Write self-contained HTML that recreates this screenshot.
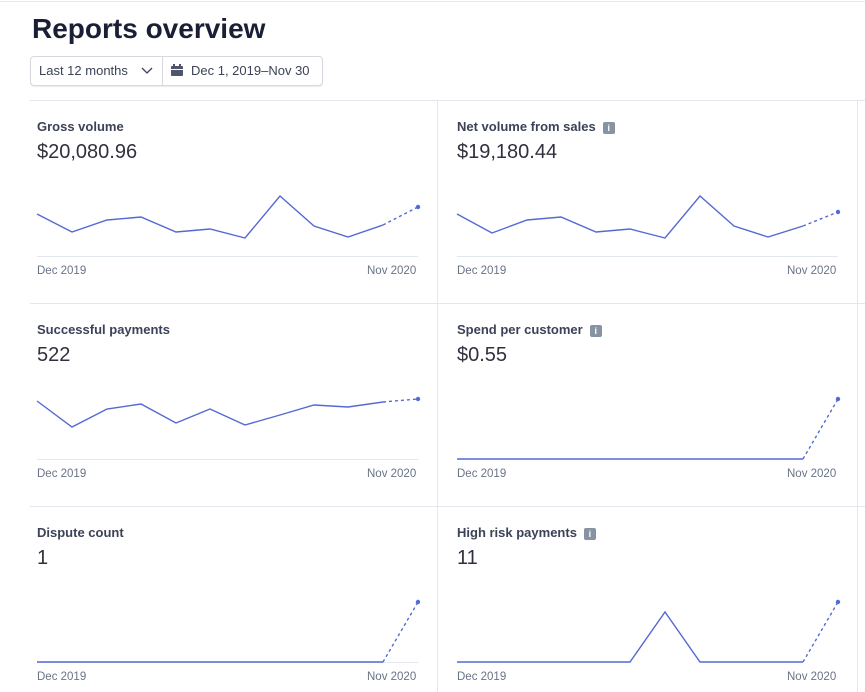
<!DOCTYPE html>
<html><head><style>
body{margin:0;width:865px;height:692px;background:#fff;font-family:"Liberation Sans",sans-serif;position:relative;overflow:hidden}
.t{position:absolute;color:#1a1f36}
h1{position:absolute;left:32px;top:13px;margin:0;font-size:28px;font-weight:bold;color:#1a1f36}
.btn{position:absolute;top:56px;height:28px;border:1px solid #d5d8de;border-radius:4px;box-shadow:0 1px 1px rgba(0,0,0,.08);background:#fff}
.lbl{position:absolute;font-size:13px;color:#3c4257;font-weight:bold}
.val{position:absolute;font-size:20px;color:#30313d}
.ax{position:absolute;font-size:11.5px;color:#697386}
.info{display:inline-block;width:12px;height:12px;background:#8792a2;border-radius:2px;color:#fff;font-size:9px;line-height:12px;text-align:center;vertical-align:0px;margin-left:7px;font-weight:bold}
</style></head><body>
<div style="position:absolute;left:0;top:1px;width:865px;height:1px;background:#e6e8eb"></div>
<h1>Reports overview</h1>
<div class="btn" style="left:30px;width:291px"></div>
<div style="position:absolute;left:162px;top:57px;width:1px;height:28px;background:#d5d8de"></div>
<div class="t" style="left:39px;top:63px;font-size:13px;color:#3c4257">Last 12 months</div>
<svg style="position:absolute;left:141px;top:67px" width="12" height="8"><path d="M1 1 L6 6 L11 1" fill="none" stroke="#3c4257" stroke-width="1.3"/></svg>
<svg style="position:absolute;left:171px;top:64px" width="12" height="12"><rect x="0" y="2" width="12" height="10" rx="1" fill="#4f566b"/><rect x="0" y="5" width="12" height="1" fill="#fff"/><rect x="2" y="0" width="2" height="3" fill="#4f566b"/><rect x="8" y="0" width="2" height="3" fill="#4f566b"/></svg>
<div class="t" style="left:191px;top:63px;font-size:13px;color:#3c4257">Dec 1, 2019–Nov 30</div>
<div style="position:absolute;left:30px;top:100px;width:835px;height:1px;background:#e3e8ee"></div>
<div style="position:absolute;left:30px;top:303px;width:835px;height:1px;background:#e3e8ee"></div>
<div style="position:absolute;left:30px;top:506px;width:835px;height:1px;background:#e3e8ee"></div>
<div style="position:absolute;left:437px;top:100px;width:1px;height:592px;background:#e3e8ee"></div>
<div style="position:absolute;left:857px;top:100px;width:1px;height:592px;background:#e3e8ee"></div>

<div class="lbl" style="left:37px;top:119px">Gross volume</div>
<div class="val" style="left:37px;top:141px">$20,080.96</div>
<div class="lbl" style="left:457px;top:119px">Net volume from sales<span class="info">i</span></div>
<div class="val" style="left:457px;top:141px">$19,180.44</div>
<div class="lbl" style="left:37px;top:322px">Successful payments</div>
<div class="val" style="left:37px;top:344px">522</div>
<div class="lbl" style="left:457px;top:322px">Spend per customer<span class="info">i</span></div>
<div class="val" style="left:457px;top:344px">$0.55</div>
<div class="lbl" style="left:37px;top:525px">Dispute count</div>
<div class="val" style="left:37px;top:547px">1</div>
<div class="lbl" style="left:457px;top:525px">High risk payments<span class="info">i</span></div>
<div class="val" style="left:457px;top:547px">11</div>

<div class="ax" style="left:37px;top:265px">Dec 2019</div><div class="ax" style="left:367px;top:265px">Nov 2020</div>
<div class="ax" style="left:457px;top:265px">Dec 2019</div><div class="ax" style="left:787px;top:265px">Nov 2020</div>
<div class="ax" style="left:37px;top:468px">Dec 2019</div><div class="ax" style="left:367px;top:468px">Nov 2020</div>
<div class="ax" style="left:457px;top:468px">Dec 2019</div><div class="ax" style="left:787px;top:468px">Nov 2020</div>
<div class="ax" style="left:37px;top:671px">Dec 2019</div><div class="ax" style="left:367px;top:671px">Nov 2020</div>
<div class="ax" style="left:457px;top:671px">Dec 2019</div><div class="ax" style="left:787px;top:671px">Nov 2020</div>

<svg style="position:absolute;left:0;top:0" width="865" height="692" fill="none" stroke="#5469d4" stroke-width="1.4">
<g stroke="#e3e8ee" stroke-width="1"><path d="M37 256.5H418M457 256.5H838M37 459.5H418M37 662.5H418"/></g>
<path d="M37 214 L72 232 L107 220 L141 217 L176 232 L210 229 L245 238 L280 196 L314 226 L348 237 L383 225"/>
<path d="M383 225 L418 207" stroke-dasharray="3 3"/><circle cx="418" cy="207" r="2.2" fill="#5469d4" stroke="none"/>
<path d="M457 214 L492 233 L527 220 L561 217 L596 232 L630 229 L665 238 L700 196 L734 226 L768 237 L803 226"/>
<path d="M803 226 L838 212" stroke-dasharray="3 3"/><circle cx="838" cy="212" r="2.2" fill="#5469d4" stroke="none"/>
<path d="M37 401 L72 427 L107 409 L141 404 L176 423 L210 409 L245 425 L280 415 L314 405 L348 407 L383 402"/>
<path d="M383 402 L418 399" stroke-dasharray="3 3"/><circle cx="418" cy="399" r="2.2" fill="#5469d4" stroke="none"/>
<path d="M457 459 L803 459"/><path d="M803 459 L838 399" stroke-dasharray="3 3"/><circle cx="838" cy="399" r="2.2" fill="#5469d4" stroke="none"/>
<path d="M37 662 L383 662"/><path d="M383 662 L418 602" stroke-dasharray="3 3"/><circle cx="418" cy="602" r="2.2" fill="#5469d4" stroke="none"/>
<path d="M457 662 L630 662 L665 612 L700 662 L803 662"/><path d="M803 662 L838 602" stroke-dasharray="3 3"/><circle cx="838" cy="602" r="2.2" fill="#5469d4" stroke="none"/>
</svg>
</body></html>
